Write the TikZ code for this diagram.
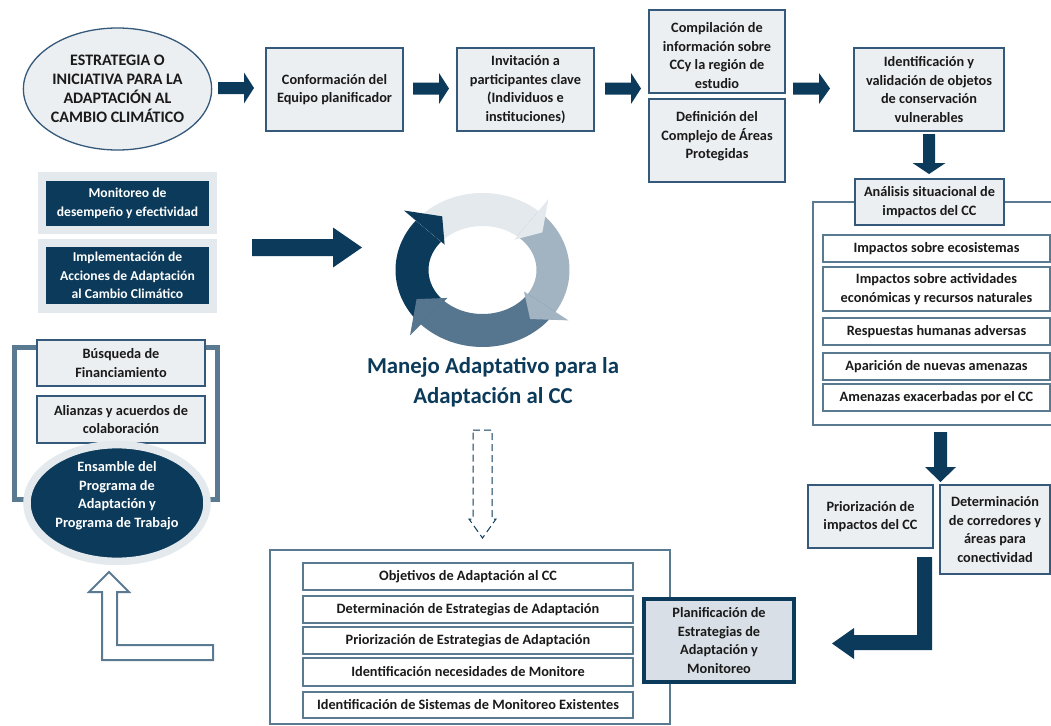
\documentclass[tikz,border=0pt]{standalone}
\usepackage{fontspec}
\setmainfont{Carlito}
\usetikzlibrary{shapes.geometric}
\definecolor{navy}{HTML}{0B3A5A}
\definecolor{boxfill}{HTML}{ECEFF2}
\definecolor{boxline}{HTML}{34597A}
\definecolor{framec}{HTML}{5A7A92}
\definecolor{panel}{HTML}{E4E9ED}
\definecolor{planfill}{HTML}{D8DFE6}
\definecolor{cyclight}{HTML}{E3E9ED}
\definecolor{cycgray}{HTML}{A2B3C1}
\definecolor{cycsteel}{HTML}{56758E}
\definecolor{txt}{HTML}{1A1A1A}
\tikzset{
 lbl/.style={font=\bfseries\fontsize{14.3}{18.5}\selectfont, text=txt, align=center, inner sep=0pt},
 greybox/.style={lbl, draw=boxline, line width=1.3pt, fill=boxfill},
 listbox/.style={lbl, draw=framec, line width=1.2pt, fill=white},
 navybox/.style={lbl, font=\bfseries\fontsize{13.6}{18.5}\selectfont, fill=navy, text=white},
 panelbox/.style={fill=panel, inner sep=0pt},
 blockarrow/.style={fill=navy},
 framebox/.style={draw=framec, line width=2.6pt},
}
\newcommand\rarrow[6]{\fill[blockarrow] (#1,#4-#5)--(#2,#4-#5)--(#2,#4-#6)--(#3,#4)--(#2,#4+#6)--(#2,#4+#5)--(#1,#4+#5)--cycle;}
\newcommand\darrow[6]{\fill[blockarrow] (#1-#5,#2)--(#1+#5,#2)--(#1+#5,#3)--(#1+#6,#3)--(#1,#4)--(#1-#6,#3)--(#1-#5,#3)--cycle;}
\newcommand\cycbody[3]{\fill[#1] plot[domain=#2:#3,samples=40] ({482.5+87*cos(\x)},{270-77*sin(\x)}) -- plot[domain=#3:#2,samples=40] ({482.5+54*cos(\x)},{270-44*sin(\x)}) -- cycle;}
\newcommand\cychead[3]{\fill[#1] ({482.5+49.5*cos(#2)},{270-39.5*sin(#2)}) -- ({482.5+102.5*cos(#2)},{270-92.5*sin(#2)}) -- ({482.5+74*cos(#3)},{270-64*sin(#3)}) -- cycle;}
\begin{document}
\begin{tikzpicture}[x=1pt,y=-1pt]
\fill[white] (0,0) rectangle (1051,725);
\useasboundingbox (0,0) rectangle (1051,725);

% ---- top row
\node[greybox, ellipse, font=\bfseries\fontsize{16}{19}\selectfont, minimum width=159pt, minimum height=122pt] (e1) at (117.5,89) {ESTRATEGIA O\\INICIATIVA PARA LA\\ADAPTACIÓN AL\\CAMBIO CLIMÁTICO};
\node[greybox, minimum width=137pt, minimum height=83pt] (b1) at (334.5,89.5) {Conformación del\\Equipo planificador};
\node[greybox, minimum width=137pt, minimum height=83pt] (b2) at (525.5,89.5) {Invitación a\\participantes clave\\(Individuos e\\instituciones)};
\node[greybox, minimum width=136pt, minimum height=83pt, text height=74pt] (b3) at (717,51.5) {Compilación de\\información sobre\\CCy la región de\\estudio};
\node[greybox, minimum width=136pt, minimum height=83pt, text depth=11pt] (b4) at (717,140.5) {Definición del\\Complejo de Áreas\\Protegidas};
\node[greybox, minimum width=150pt, minimum height=83pt] (b5) at (929,89.5) {Identificación y\\validación de objetos\\de conservación\\vulnerables};

\rarrow{218}{244}{254}{88}{6}{15.5}
\rarrow{413}{439}{449}{88.5}{6}{15.5}
\rarrow{605}{631}{641}{88.5}{6}{15.5}
\rarrow{793}{819}{830}{88.5}{6}{15.5}

% ---- right column
\darrow{929}{134}{163}{174}{6}{16.5}
\draw[framebox] (813,202) rectangle (1075,425);
\node[greybox, minimum width=149pt, minimum height=46pt] (b6) at (929.5,202) {Análisis situacional de\\impactos del CC};
\node[listbox, minimum width=227pt, minimum height=27pt] (r1) at (936.5,248.5) {Impactos sobre ecosistemas};
\node[listbox, minimum width=227pt, minimum height=44pt] (r2) at (936.5,289) {Impactos sobre actividades\\económicas y recursos naturales};
\node[listbox, minimum width=227pt, minimum height=27pt] (r3) at (936.5,331.5) {Respuestas humanas adversas};
\node[listbox, minimum width=227pt, minimum height=27pt] (r4) at (936.5,366.5) {Aparición de nuevas amenazas};
\node[listbox, minimum width=227pt, minimum height=27pt] (r5) at (936.5,397.5) {Amenazas exacerbadas por el CC};

\darrow{940.5}{432}{467}{482}{6.5}{15.5}
\node[greybox, minimum width=125pt, minimum height=63pt] (p1) at (870.5,516.5) {Priorización de\\impactos del CC};
\node[greybox, minimum width=110pt, minimum height=89pt] (p2) at (995,529.5) {Determinación\\de corredores y\\áreas para\\conectividad};
\fill[blockarrow] (917,557)--(932,557)--(932,650)--(854,650)--(854,659)--(832,643.5)--(854,628)--(854,635)--(917,635)--cycle;

% ---- bottom block
\draw[framebox] (270,550) rectangle (670,724);
\node[listbox, minimum width=330pt, minimum height=27pt] (o1) at (468,576.5) {Objetivos de Adaptación al CC};
\node[listbox, minimum width=330pt, minimum height=27pt] (o2) at (468,609.5) {Determinación de Estrategias de Adaptación};
\node[listbox, minimum width=330pt, minimum height=27pt] (o3) at (468,640.5) {Priorización de Estrategias de Adaptación};
\node[listbox, minimum width=330pt, minimum height=28pt] (o4) at (468,672) {Identificación necesidades de Monitore};
\node[listbox, minimum width=330pt, minimum height=26pt] (o5) at (468,705) {Identificación de Sistemas de Monitoreo Existentes};
\node[lbl, draw=navy, line width=4pt, fill=planfill, minimum width=150pt, minimum height=83pt] (pl) at (719,640.5) {Planificación de\\Estrategias de\\Adaptación y\\Monitoreo};

\draw[navy, line width=1pt, dash pattern=on 7pt off 4pt] (473,430)--(492,430)--(492,519)--(496,519)--(482.5,538)--(469,519)--(473,519)--cycle;

% ---- left column
\node[panelbox, minimum width=179pt, minimum height=62pt] (pan1) at (127.5,203) {};
\node[navybox, minimum width=163pt, minimum height=45pt] (m1) at (127.5,203.5) {Monitoreo de\\desempeño y efectividad};
\node[panelbox, minimum width=179pt, minimum height=74pt] (pan2) at (127.5,276) {};
\node[navybox, minimum width=163pt, minimum height=57pt] (m2) at (127.5,275.5) {Implementación de\\Acciones de Adaptación\\al Cambio Climático};
\rarrow{252}{333}{362}{247.5}{8.5}{20}

\draw[framec, line width=5pt] (14,347) rectangle (217,499);
\node[greybox, line width=1.2pt, minimum width=168pt, minimum height=46pt] (s1) at (121,363) {Búsqueda de\\Financiamiento};
\node[greybox, line width=1.2pt, minimum width=168pt, minimum height=47pt] (s2) at (121,419.5) {Alianzas y acuerdos de\\colaboración};
\node[lbl, ellipse, fill=navy, draw=panel, line width=7.5pt, text=white, text depth=17pt, minimum width=180pt, minimum height=110pt] (ens) at (117,503) {Ensamble del\\Programa de\\Adaptación y\\Programa de Trabajo};

\draw[framec, line width=2pt, fill=white] (109,572)--(129,592)--(117,592)--(117,645)--(213,645)--(213,660)--(102,660)--(102,592)--(89,592)--cycle;

% ---- cycle
\cycbody{navy}{225}{140}
\cycbody{cyclight}{140}{50}
\cycbody{cycgray}{50}{-33}
\cycbody{cycsteel}{-33}{-135}
\cychead{navy}{140}{123}
\cychead{cyclight}{50}{36}
\cychead{cycgray}{-33}{-50}
\cychead{cycsteel}{-135}{-153}
\node[font=\bfseries\fontsize{22.8}{30}\selectfont, text=navy, align=center] (title) at (493,382) {Manejo Adaptativo para la\\Adaptación al CC};
\end{tikzpicture}
\end{document}
